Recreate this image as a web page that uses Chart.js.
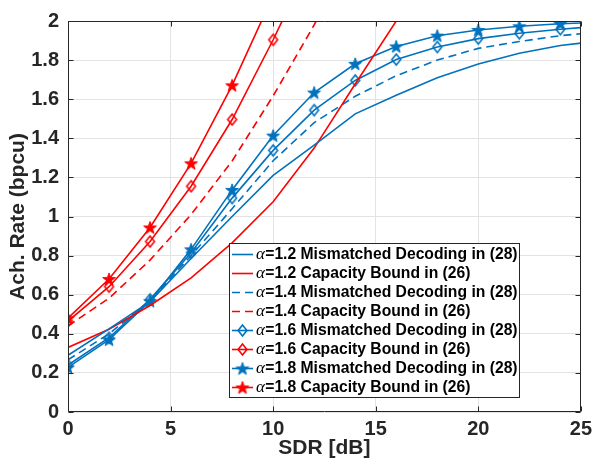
<!DOCTYPE html>
<html>
<head>
<meta charset="utf-8">
<script src="https://cdn.jsdelivr.net/npm/chart.js@4.4.1/dist/chart.umd.min.js"></script>
<style>
html,body{margin:0;padding:0;background:#fff;}
#wrap{width:597px;height:459px;}
</style>
</head>
<body>
<div id="wrap"><canvas id="c" width="597" height="459"></canvas></div>
<script>
// ---- data ----
const sdr = [0, 2, 4, 6, 8, 10, 12, 14, 16, 18, 20, 22, 24, 25];
const mismatch12 = [0.29, 0.425, 0.565, 0.785, 1.00, 1.21, 1.365, 1.525, 1.62, 1.71, 1.78, 1.835, 1.875, 1.887];
const mismatch14 = [0.267, 0.40, 0.57, 0.80, 1.04, 1.285, 1.48, 1.615, 1.72, 1.80, 1.86, 1.895, 1.925, 1.935];
const mismatch16 = [0.24, 0.38, 0.576, 0.815, 1.094, 1.338, 1.544, 1.696, 1.803, 1.867, 1.91, 1.937, 1.958, 1.966];
const mismatch18 = [0.228, 0.37, 0.567, 0.832, 1.136, 1.414, 1.634, 1.781, 1.87, 1.925, 1.954, 1.973, 1.986, 1.99];
const cap12 = [0.33, 0.423, 0.545, 0.686, 0.865, 1.075, 1.35, 1.678, 2.0, 2.33];
const cap14 = [0.44, 0.582, 0.777, 1.01, 1.284, 1.617, 1.98, 2.4];
const cap16 = [0.465, 0.641, 0.872, 1.155, 1.496, 1.904, 2.34];
const cap18 = [0.48, 0.68, 0.944, 1.272, 1.671, 2.13];
const legendLabels = [
  'α=1.2 Mismatched Decoding in (28)',
  'α=1.2 Capacity Bound in (26)',
  'α=1.4 Mismatched Decoding in (28)',
  'α=1.4 Capacity Bound in (26)',
  'α=1.6 Mismatched Decoding in (28)',
  'α=1.6 Capacity Bound in (26)',
  'α=1.8 Mismatched Decoding in (28)',
  'α=1.8 Capacity Bound in (26)'
];
const xTickLabels = ['0', '5', '10', '15', '20', '25'];
const yTickLabels = ['0', '0.2', '0.4', '0.6', '0.8', '1', '1.2', '1.4', '1.6', '1.8', '2'];

// ---- styles ----
const BLUE = '#0072BD', RED = '#FF0000', AXC = '#262626';

function starImg(color) {
  const s = 16, c = document.createElement('canvas');
  c.width = s; c.height = s;
  const g = c.getContext('2d');
  const R = 6.7, r = R * 0.40, cx = s / 2, cy = s / 2 + 0.6;
  g.beginPath();
  for (let i = 0; i < 10; i++) {
    const rad = i % 2 === 0 ? R : r;
    const a = -Math.PI / 2 + i * Math.PI / 5;
    const px = cx + rad * Math.cos(a), py = cy + rad * Math.sin(a);
    if (i === 0) g.moveTo(px, py); else g.lineTo(px, py);
  }
  g.closePath();
  g.fillStyle = color; g.fill();
  g.strokeStyle = color; g.lineWidth = 1; g.stroke();
  return c;
}
function diamondImg(color) {
  const w = 13, h = 15, c = document.createElement('canvas');
  c.width = w; c.height = h;
  const g = c.getContext('2d');
  const cx = w / 2, cy = h / 2, hw = 4.4, hh = 5.4;
  g.beginPath();
  g.moveTo(cx, cy - hh); g.lineTo(cx + hw, cy); g.lineTo(cx, cy + hh); g.lineTo(cx - hw, cy); g.closePath();
  g.strokeStyle = color; g.lineWidth = 1.6; g.stroke();
  return c;
}
const starB = starImg(BLUE), starR = starImg(RED), diaB = diamondImg(BLUE), diaR = diamondImg(RED);

function pts(vals) { return vals.map((v, i) => ({x: sdr[i], y: v})); }
function radii(vals, lastNone) { return vals.map((v, i) => (lastNone && i === vals.length - 1) ? 0 : 5); }

const datasets = [
  {label: legendLabels[0], data: pts(mismatch12), borderColor: BLUE, pointRadius: 0},
  {label: legendLabels[1], data: pts(cap12), borderColor: RED, pointRadius: 0},
  {label: legendLabels[2], data: pts(mismatch14), borderColor: BLUE, borderDash: [8, 5], pointRadius: 0},
  {label: legendLabels[3], data: pts(cap14), borderColor: RED, borderDash: [8, 5], pointRadius: 0},
  {label: legendLabels[4], data: pts(mismatch16), borderColor: BLUE, pointStyle: diaB, pointRadius: radii(mismatch16, true)},
  {label: legendLabels[5], data: pts(cap16), borderColor: RED, pointStyle: diaR, pointRadius: radii(cap16, false)},
  {label: legendLabels[6], data: pts(mismatch18), borderColor: BLUE, pointStyle: starB, pointRadius: radii(mismatch18, true)},
  {label: legendLabels[7], data: pts(cap18), borderColor: RED, pointStyle: starR, pointRadius: radii(cap18, false)}
].map(d => Object.assign({borderWidth: 1.6, fill: false, tension: 0, backgroundColor: 'transparent', pointHoverRadius: 0}, d));

// ---- plugin: frame, inner ticks, legend ----
const decor = {
  id: 'decor',
  afterDatasetsDraw(chart) {
    const ctx = chart.ctx, a = chart.chartArea;
    const xs = chart.scales.x, ys = chart.scales.y;
    ctx.save();
    ctx.strokeStyle = AXC; ctx.lineWidth = 1;
    const L = Math.round(a.left) + 0.5, R = Math.round(a.right) - 0.5, T = Math.round(a.top) + 0.5, B = Math.round(a.bottom) - 0.5;
    ctx.beginPath();
    ctx.rect(L, T, R - L, B - T);
    ctx.stroke();
    const tl = 5;
    ctx.beginPath();
    xs.ticks.forEach(t => {
      const px = Math.round(xs.getPixelForValue(t.value)) + 0.5;
      ctx.moveTo(px, B); ctx.lineTo(px, B - tl);
      ctx.moveTo(px, T); ctx.lineTo(px, T + tl);
    });
    ys.ticks.forEach(t => {
      const py = Math.round(ys.getPixelForValue(t.value)) + 0.5;
      ctx.moveTo(L, py); ctx.lineTo(L + tl, py);
      ctx.moveTo(R, py); ctx.lineTo(R - tl, py);
    });
    ctx.stroke();

    // legend
    const bx = 229.5, by = 243.5, bw = 290, bh = 154;
    ctx.fillStyle = '#fff';
    ctx.fillRect(bx, by, bw, bh);
    ctx.strokeStyle = AXC;
    ctx.strokeRect(bx, by, bw, bh);
    chart.data.datasets.forEach((ds, i) => {
      const y = 254.5 + i * 19;
      ctx.save();
      ctx.strokeStyle = ds.borderColor; ctx.lineWidth = 1.6;
      ctx.setLineDash(ds.borderDash || []);
      ctx.beginPath(); ctx.moveTo(232, y); ctx.lineTo(253, y); ctx.stroke();
      ctx.restore();
      if (ds.pointStyle && typeof ds.pointStyle === 'object') {
        const im = ds.pointStyle;
        ctx.drawImage(im, 242.5 - im.width / 2, y - im.height / 2);
      }
      const lab = ds.label;
      ctx.fillStyle = '#000';
      ctx.textBaseline = 'middle';
      ctx.textAlign = 'left';
      ctx.font = 'italic 17px "Liberation Serif"';
      ctx.fillText(lab[0], 256, y);
      const aw = ctx.measureText(lab[0]).width;
      ctx.font = 'bold 15.7px "Liberation Sans"';
      ctx.fillText(lab.slice(1), 256 + aw + 0.3, y + 0.5);
    });
    ctx.restore();
  }
};

Chart.defaults.font.family = '"Liberation Sans", Arial, sans-serif';

new Chart(document.getElementById('c'), {
  type: 'line',
  data: {datasets},
  plugins: [decor],
  options: {
    responsive: false,
    animation: false,
    devicePixelRatio: 1,
    events: [],
    layout: {padding: {top: 16, right: 13, left: 0, bottom: 0}},
    plugins: {legend: {display: false}, tooltip: {enabled: false}},
    scales: {
      x: {
        type: 'linear', min: 0, max: 25,
        afterFit: s => { s.height = 47; },
        grid: {color: '#e3e3e3', lineWidth: 1, drawTicks: false},
        border: {display: false},
        ticks: {
          stepSize: 5, padding: 5, color: AXC, maxRotation: 0, autoSkip: false,
          font: {size: 20, weight: 'bold'},
          callback: (v) => xTickLabels[Math.round(v / 5)]
        },
        title: {display: true, text: 'SDR [dB]', color: AXC, font: {size: 21, weight: 'bold', lineHeight: 1}, padding: {top: 0, bottom: 0.5}}
      },
      y: {
        type: 'linear', min: 0, max: 2,
        afterFit: s => { s.width = 68; },
        grid: {color: '#e3e3e3', lineWidth: 1, drawTicks: false},
        border: {display: false},
        ticks: {
          stepSize: 0.2, padding: 9, color: AXC, autoSkip: false,
          font: {size: 20, weight: 'bold'},
          callback: (v) => yTickLabels[Math.round(v / 0.2)]
        },
        title: {display: true, text: 'Ach. Rate (bpcu)', color: AXC, font: {size: 21, weight: 'bold', lineHeight: 1}, padding: {top: 7.5, bottom: 0}}
      }
    }
  }
});
</script>
</body>
</html>
